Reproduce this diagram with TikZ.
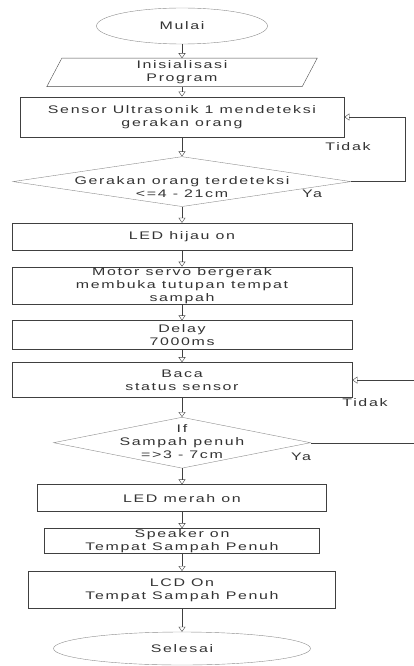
\documentclass[tikz,border=0pt]{standalone}
\usepackage{fontspec}
\setmainfont{Liberation Sans}[FakeStretch=1.45,LetterSpace=15]
\usetikzlibrary{%
  positioning,
  shapes.geometric,
  arrows.meta,
}
\newcommand{\teks}[2][0pt]{\makebox[1pt]{\raisebox{#1}[1pt][0pt]{\begin{tabular}{@{}c@{}}#2\end{tabular}}}}

\begin{document}
\begin{tikzpicture}[%
           x=1pt, y=1pt,
           font=\fontsize{11}{13}\selectfont,
           text=black!80,
           terminal/.style={
             % The shape:
             ellipse,
             inner sep=0pt,
             % The border:
             draw=black!45,
           },
           masukan/.style={
             % The shape (the slanted border is drawn later):
             rectangle,
             % The size:
             minimum width=255pt,
             minimum height=28pt,
             inner sep=0pt,
             align=center,
           },
           proses/.style={
             % The shape:
             rectangle,
             % The size:
             minimum width=340pt,
             inner sep=0pt,
             align=center,
             % The border:
             draw=black!75,
             thick,
           },
           keputusan/.style={
             % The shape:
             diamond,
             inner sep=0pt,
             % The border:
             draw=black!45,
           },
           alur/.style={
             -{Triangle[open, length=5pt, width=7pt]},
             color=black!75,
           }]

         \useasboundingbox (0,0) rectangle (414,-666);

         \node[terminal, minimum width=171pt, minimum height=36pt] (mulai) at (182,-26) {Mulai};
         \node[masukan] (inisialisasi) [below=14pt of mulai] {Inisialisasi\\Program};
         \node[proses, minimum width=324pt, minimum height=40pt] (sensor) [below=10pt of inisialisasi] {Sensor Ultrasonik 1 mendeteksi\\gerakan orang};
         \node[keputusan, minimum width=338pt, minimum height=50pt] (deteksi) [below=19pt of sensor] {\teks[-8.75pt]{Gerakan orang terdeteksi\\<=4 - 21cm}};
         \node[proses, minimum height=27pt] (ledhijau) [below=16pt of deteksi] {LED hijau on};
         \node[proses, minimum height=37pt] (servo) [below=16pt of ledhijau] {Motor servo bergerak\\membuka tutupan tempat\\sampah};
         \node[proses, minimum height=29pt] (delay) [below=16pt of servo] {Delay\\7000ms};
         \node[proses, minimum height=35pt] (baca) [below=12pt of delay] {Baca\\status sensor};
         \node[keputusan, minimum width=257pt, minimum height=51pt] (penuh) [below=19pt of baca] {\teks[-2pt]{If\\Sampah penuh\\=>3 - 7cm}};
         \node[proses, minimum width=289pt, minimum height=27pt] (ledmerah) [below=16pt of penuh] {LED merah on};
         \node[proses, minimum width=275pt, minimum height=25pt] (speaker) [below=16pt of ledmerah] {Speaker on\\Tempat Sampah Penuh};
         \node[proses, minimum width=307pt, minimum height=37pt] (lcd) [below=17pt of speaker] {LCD On\\Tempat Sampah Penuh};
         \node[terminal, minimum width=257pt, minimum height=33pt] (selesai) [below=23pt of lcd] {Selesai};

         % the parallelogram
         \draw[black!70] ([xshift=7.5pt]inisialisasi.north west) -- ([xshift=7.5pt]inisialisasi.north east)
           -- ([xshift=-7.5pt]inisialisasi.south east) -- ([xshift=-7.5pt]inisialisasi.south west) -- cycle;

         % labels of the two decisions
         \node (tidak1) at (348,-147) {Tidak};
         \node (ya1) at (312,-194) {Ya};
         \node (tidak2) at (365,-403) {Tidak};
         \node (ya2) at (301,-457) {Ya};

         \draw[alur] (mulai) -- (inisialisasi);
         \draw[alur] (inisialisasi) -- (sensor);
         \draw[alur] (sensor) -- (deteksi);
         \draw[alur] (deteksi) -- (ledhijau);
         \draw[alur] (ledhijau) -- (servo);
         \draw[alur] (servo) -- (delay);
         \draw[alur] (delay) -- (baca);
         \draw[alur] (baca) -- (penuh);
         \draw[alur] (penuh) -- (ledmerah);
         \draw[alur] (ledmerah) -- (speaker);
         \draw[alur] (speaker) -- (lcd);
         \draw[alur] (lcd) -- (selesai);

         \draw[alur] (deteksi.east) -- ++(54,0) |- (sensor.east);
         \draw[alur] (penuh.east) -- ++(103,0) |- (baca.east);
       \end{tikzpicture}
\end{document}
